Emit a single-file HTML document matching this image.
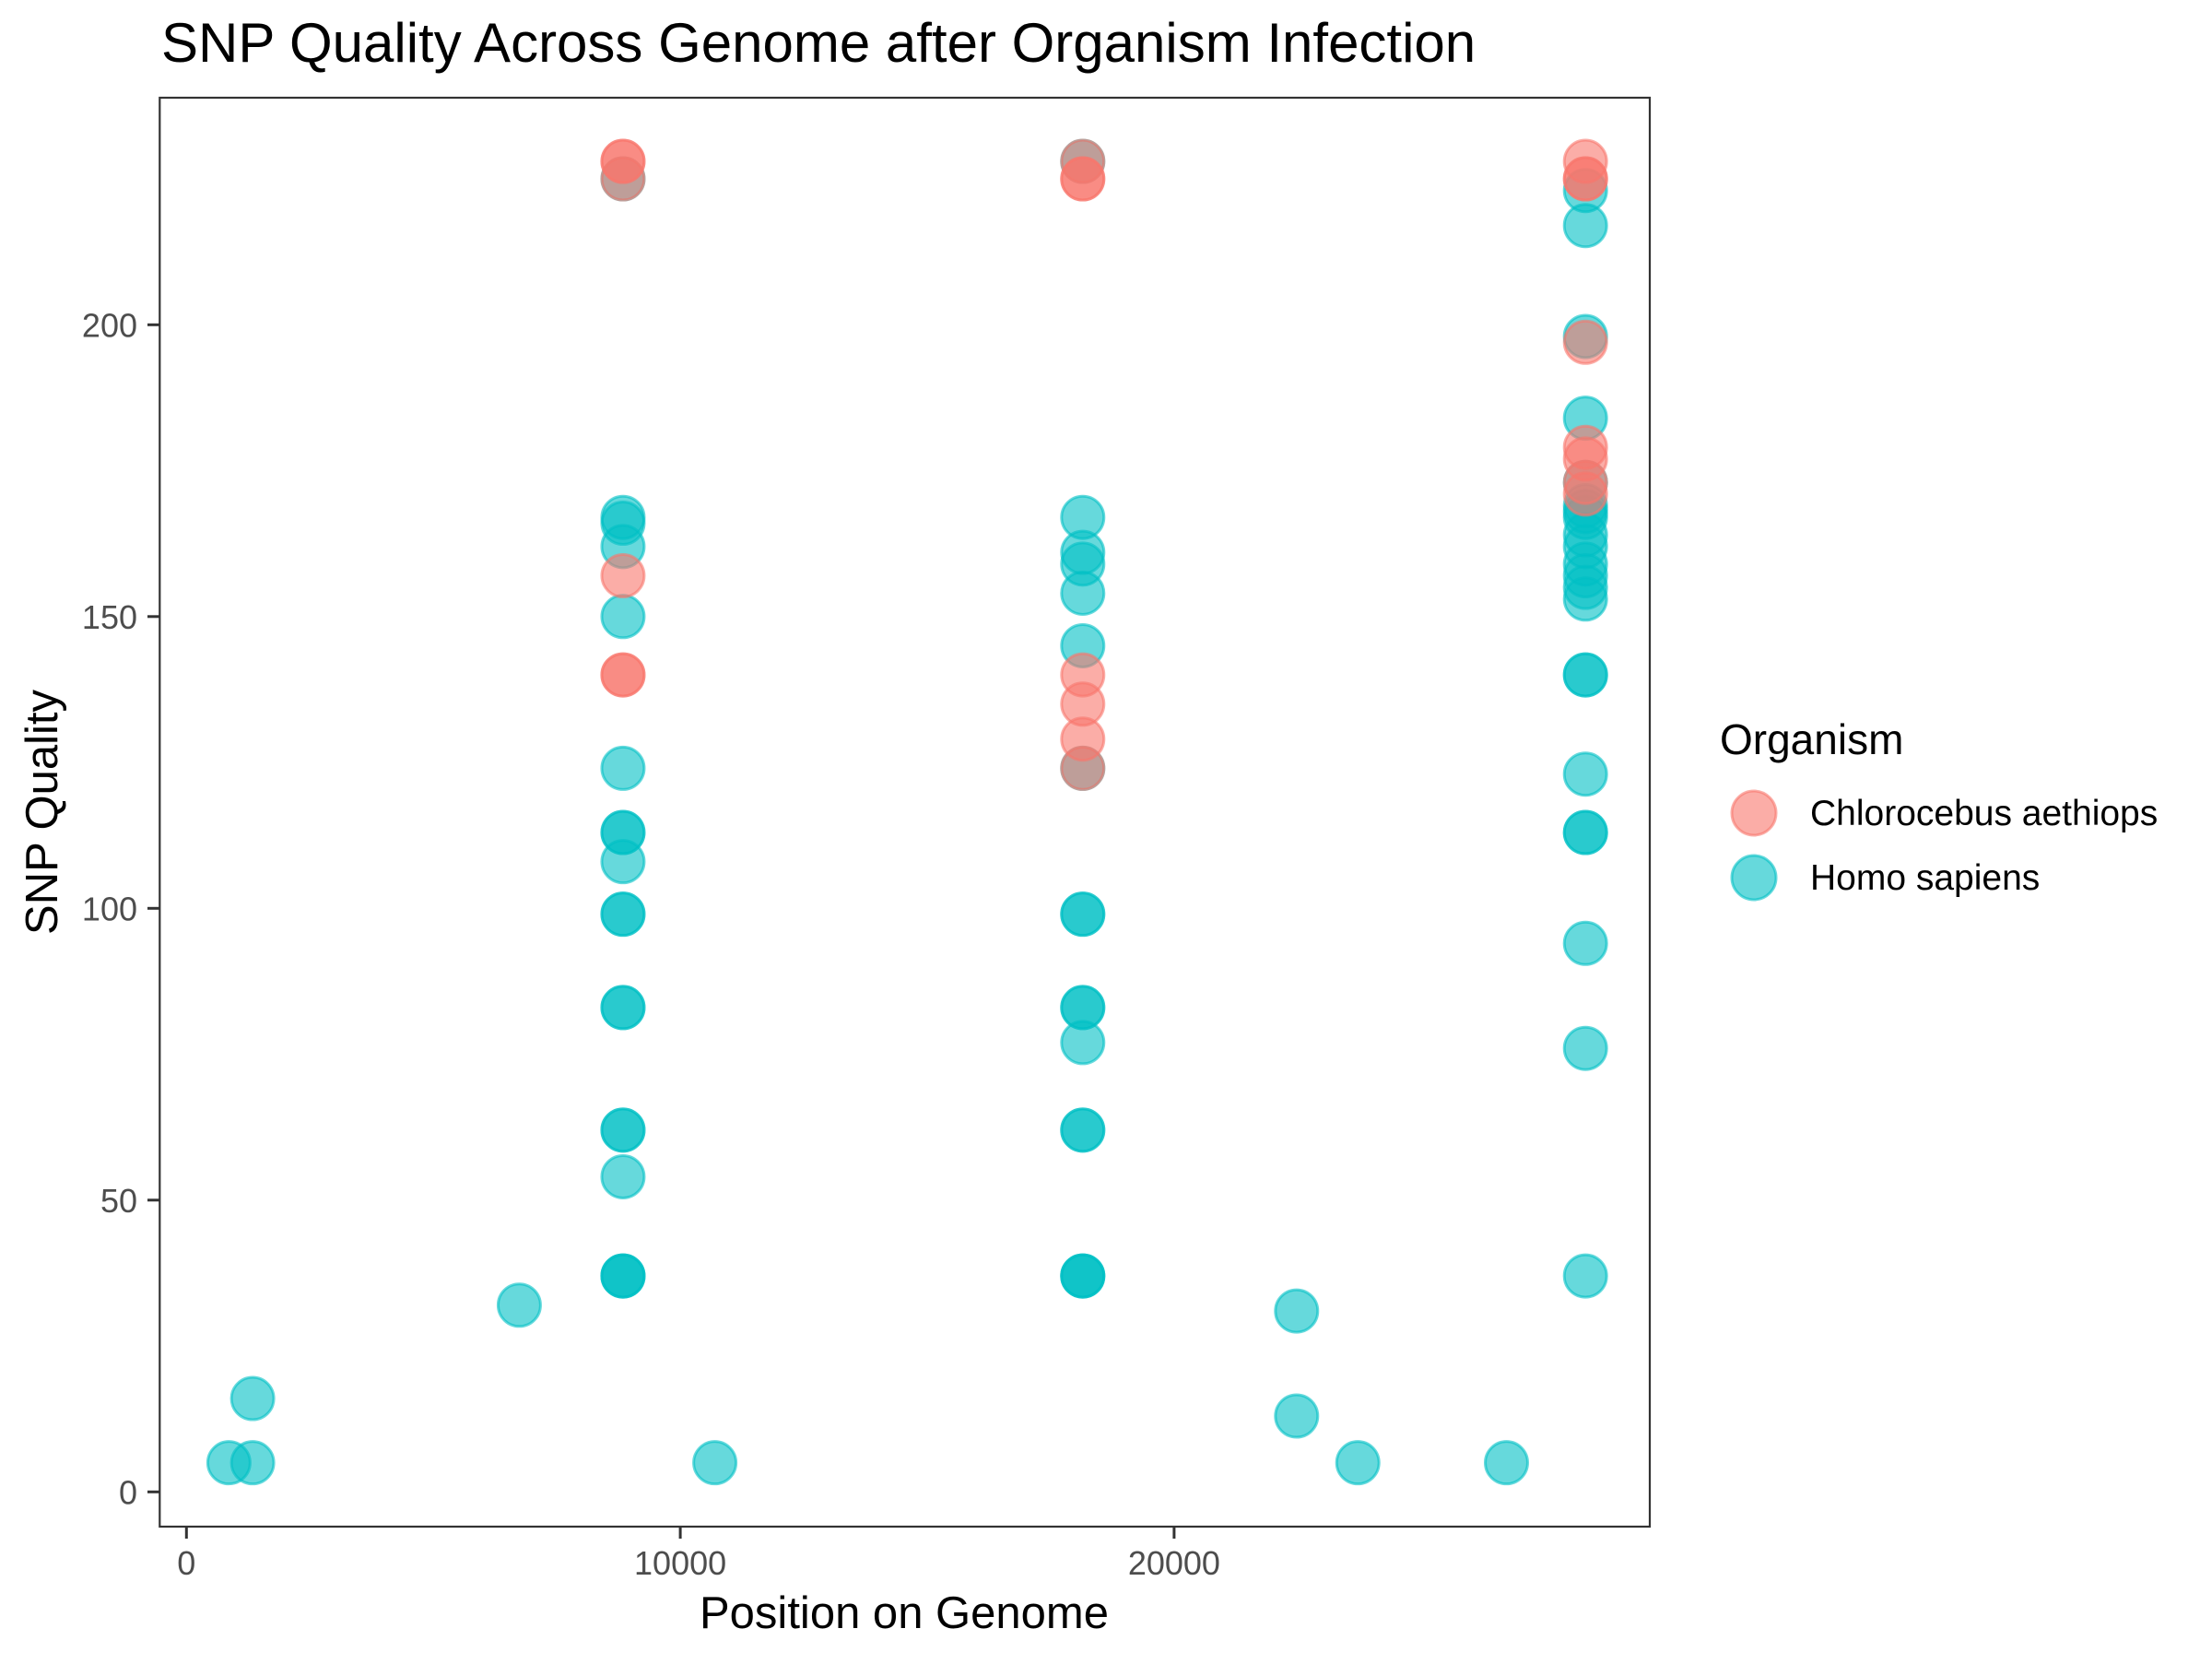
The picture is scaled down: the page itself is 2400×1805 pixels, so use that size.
<!DOCTYPE html>
<html><head><meta charset="utf-8"><style>
html,body{margin:0;padding:0;background:#fff}
svg text{font-family:"Liberation Sans",Arial,sans-serif}
</style></head><body>
<svg id="chart" width="2400" height="1800" xmlns="http://www.w3.org/2000/svg">
<rect width="2400" height="1800" fill="#fff"/>
<text x="175" y="67" font-size="60" fill="#000">SNP Quality Across Genome after Organism Infection</text>
<g id="marks"></g>
<rect x="173.3" y="106" width="1616.7" height="1550" fill="none" stroke="#333" stroke-width="2.2"/>
<g id="axes"></g>
<text x="981" y="1766" font-size="49" text-anchor="middle" fill="#000">Position on Genome</text>
<text transform="translate(62,881) rotate(-90)" font-size="49" text-anchor="middle" fill="#000">SNP Quality</text>
<g>
<text x="1866" y="818" font-size="46" fill="#000">Organism</text>
<circle cx="1903" cy="882" r="24" fill="#F8766D" fill-opacity="0.6" stroke="#F8766D" stroke-opacity="0.6" stroke-width="3"/>
<text x="1964" y="895" font-size="39" fill="#000">Chlorocebus aethiops</text>
<circle cx="1903" cy="952" r="24" fill="#00BFC4" fill-opacity="0.6" stroke="#00BFC4" stroke-opacity="0.6" stroke-width="3"/>
<text x="1964" y="965" font-size="39" fill="#000">Homo sapiens</text>
</g>
</svg>
<script>
const xTicks = [0, 10000, 20000];
const yTicks = [0, 50, 100, 150, 200];
const redX = [8840,8840,8840,8840,8840,8840, 18150,18150,18150,18150,18150,18150,18150, 28330,28330,28330,28330,28330,28330,28330,28330];
const redY = [228,228,225,157,140,140, 228,225,225,140,135,129,124, 228,225,225,197,179,177,173,171];
const cyanX = [8840,8840,8840,8840,8840,8840,8840,8840,8840,8840,8840,8840,8840,8840,8840,8840,8840,8840,8840,
  18150,18150,18150,18150,18150,18150,18150,18150,18150,18150,18150,18150,18150,18150,18150,18150,18150,
  28330,28330,28330,28330,28330,28330,28330,28330,28330,28330,28330,28330,28330,28330,28330,28330,28330,28330,28330,28330,28330,28330,
  860,1340,1340,6740,10700,22480,22480,23720,26730];
const cyanY = [225,167,166,162,150,124,113,113,108,99,99,83,83,62,62,54,37,37,37,
  228,167,161,159,154,145,124,99,99,83,83,77,62,62,37,37,37,
  223,217,198,184,173,169,167,164,162,159,157,155,153,140,140,123,113,113,94,76,37,168,
  5,16,5,32,5,31,13,5,5];
const X = v => 202.3 + v * 0.05358;
const Y = v => 1618.3 - v * 6.33;
const NS = "http://www.w3.org/2000/svg";
const axes = document.getElementById('axes');
const marks = document.getElementById('marks');
function mk(tag, attrs, parent){const e=document.createElementNS(NS,tag);for(const k in attrs)e.setAttribute(k,attrs[k]);parent.appendChild(e);return e;}
yTicks.forEach(t=>{
  const l=mk('line',{x1:160,x2:173.3,y1:Y(t),y2:Y(t),stroke:'#333','stroke-width':3},axes);
  
  
  const tx=mk('text',{x:149,y:Y(t)+13,'font-size':36,'text-anchor':'end',fill:'#4D4D4D'},axes);
  tx.textContent=t;
  
  
});
xTicks.forEach(t=>{
  const l=mk('line',{x1:X(t),x2:X(t),y1:1656,y2:1669,stroke:'#333','stroke-width':3},axes);
  
  
  const tx=mk('text',{x:X(t),y:1708,'font-size':36,'text-anchor':'middle',fill:'#4D4D4D'},axes);
  tx.textContent=t;
  
  
});
function pts(xs, ys, col, name){
  xs.forEach((x,i)=>{
    const c=mk('circle',{cx:X(x),cy:Y(ys[i]),r:23,fill:col,'fill-opacity':0.6,stroke:col,'stroke-opacity':0.6,'stroke-width':3},marks);
    
    
  });
}
pts(cyanX, cyanY, '#00BFC4', 'point-homo-sapiens');
pts(redX, redY, '#F8766D', 'point-chlorocebus');
</script>
</body></html>
